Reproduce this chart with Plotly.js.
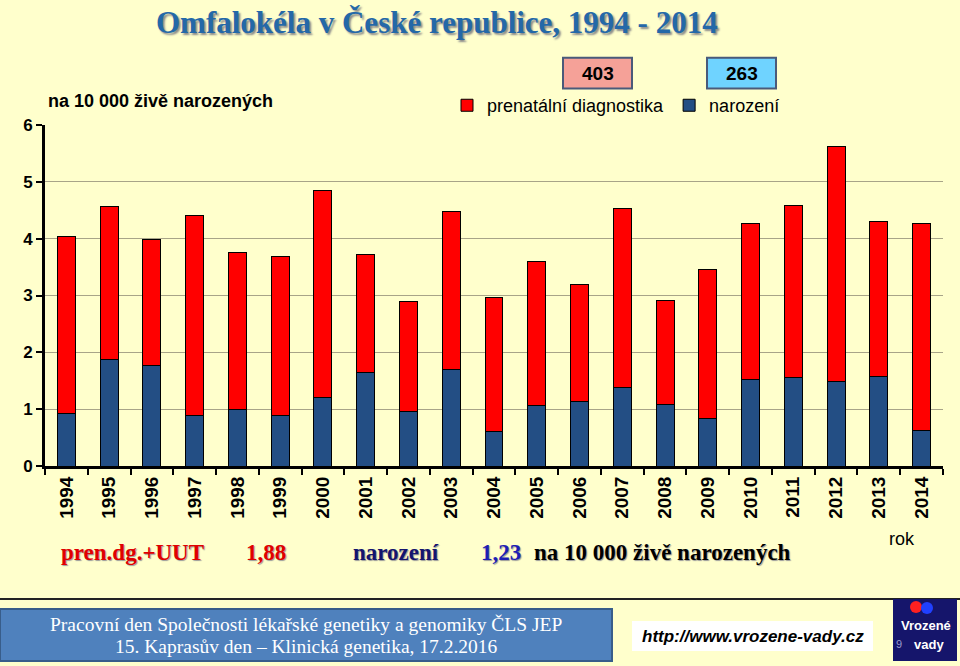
<!DOCTYPE html>
<html>
<head>
<meta charset="utf-8">
<script src="https://cdn.plot.ly/plotly-3.0.1.min.js"></script>
<style>
  body { margin: 0; background: #FFFFCC; }
  #chart { width: 960px; height: 666px; }
</style>
</head>
<body>
<div id="chart"></div>
<script>
// roky a hodnoty na 10 000 živě narozených
let years = ['1994','1995','1996','1997','1998','1999','2000','2001','2002','2003','2004',
             '2005','2006','2007','2008','2009','2010','2011','2012','2013','2014'];
let birthVals = [0.93, 1.88, 1.77, 0.88, 0.99, 0.89, 1.21, 1.64, 0.96, 1.70, 0.61,
                 1.07, 1.13, 1.39, 1.08, 0.84, 1.53, 1.56, 1.49, 1.58, 0.63];
let prenatalVals = [3.10, 2.69, 2.21, 3.52, 2.76, 2.79, 3.63, 2.09, 1.93, 2.78, 2.35,
                    2.53, 2.07, 3.14, 1.84, 2.62, 2.73, 3.03, 4.14, 2.72, 3.64];
let yTicks = [0, 1, 2, 3, 4, 5, 6];

let traceBirth = {
  x: years,
  y: birthVals,
  type: 'bar',
  name: 'narození',
  marker: { color: '#234E84', line: { color: '#000', width: 1 } },
  width: 0.42
};
let tracePrenatal = {
  x: years,
  y: prenatalVals,
  type: 'bar',
  name: 'prenatální diagnostika',
  marker: { color: '#FF0000', line: { color: '#000', width: 1 } },
  width: 0.42
};

// plot area: x 45..943, y 124.5..466.5 px
const W = 898, H = 342;
function px(x) { return (x - 45) / W; }
function py(y) { return (466.5 - y) / H; }

let sans = 'Liberation Sans, Arial';
let serif = 'Liberation Serif, Times New Roman';
let shadow = '1px 1px 1px #999';

function note(text, x, y, font, xanchor) {
  return { text: text, xref: 'paper', yref: 'paper', x: px(x), y: py(y),
           xanchor: xanchor || 'left', yanchor: 'middle', showarrow: false, font: font };
}

let layout = {
  width: 960,
  height: 666,
  paper_bgcolor: '#FFFFCC',
  plot_bgcolor: '#FFFFCC',
  barmode: 'stack',
  margin: { l: 45, r: 17, t: 124.5, b: 199.5, autoexpand: false },
  showlegend: true,
  legend: {
    orientation: 'h', traceorder: 'reversed',
    x: px(447), y: py(105), xanchor: 'left', yanchor: 'middle',
    bgcolor: 'rgba(0,0,0,0)',
    font: { family: sans, size: 18, color: '#000' },
    itemwidth: 30
  },
  xaxis: {
    type: 'category',
    tickangle: -90,
    tickfont: { family: sans, size: 19, color: '#000', weight: 'bold' },
    showline: true, linecolor: '#000', linewidth: 3,
    ticks: 'outside', tickson: 'boundaries', ticklen: 6, tickwidth: 2, tickcolor: '#000',
    showgrid: false, automargin: false
  },
  yaxis: {
    range: [0, 6],
    tickvals: yTicks,
    tickfont: { family: sans, size: 17, color: '#000', weight: 'bold' },
    showline: true, linecolor: '#000', linewidth: 3,
    ticks: 'outside', ticklen: 6, tickwidth: 2, tickcolor: '#000',
    gridcolor: '#A8A488', gridwidth: 1,
    zeroline: false, automargin: false
  },
  shapes: [
    // rámečky s počty
    { type: 'rect', xref: 'paper', yref: 'paper',
      x0: px(563), x1: px(632), y0: py(88), y1: py(57),
      fillcolor: '#F5A198', line: { color: '#4A5A7A', width: 2 } },
    { type: 'rect', xref: 'paper', yref: 'paper',
      x0: px(707), x1: px(776), y0: py(88), y1: py(57),
      fillcolor: '#6FD3FF', line: { color: '#4A5A7A', width: 2 } },
    // čára nad zápatím
    { type: 'line', xref: 'paper', yref: 'paper',
      x0: px(0), x1: px(960), y0: py(600), y1: py(600),
      line: { color: '#222', width: 2 } },
    // modrý pruh zápatí
    { type: 'rect', xref: 'paper', yref: 'paper',
      x0: px(0), x1: px(612), y0: py(662), y1: py(610),
      fillcolor: '#4F81BD', line: { color: '#385D8A', width: 2 } },
    // bílý rámeček s adresou
    { type: 'rect', xref: 'paper', yref: 'paper',
      x0: px(632), x1: px(873), y0: py(652), y1: py(622),
      fillcolor: '#FFFFFF', line: { width: 0 } },
    // logo
    { type: 'rect', xref: 'paper', yref: 'paper',
      x0: px(893), x1: px(957), y0: py(662), y1: py(600),
      fillcolor: '#15156B', line: { width: 0 } },
    { type: 'circle', xref: 'paper', yref: 'paper',
      x0: px(910), x1: px(922), y0: py(614), y1: py(602),
      fillcolor: '#FF2020', line: { width: 0 } },
    { type: 'circle', xref: 'paper', yref: 'paper',
      x0: px(921), x1: px(933), y0: py(615), y1: py(603),
      fillcolor: '#2040FF', line: { width: 0 } }
  ],
  annotations: [
    note('<b>Omfalokéla v České republice, 1994 - 2014</b>', 437, 22,
         { family: serif, size: 31, color: '#2468A8', shadow: '2px 2px 2px #8A8A8A' }, 'center'),
    note('<b>403</b>', 597.5, 72.5, { family: sans, size: 19, color: '#000' }, 'center'),
    note('<b>263</b>', 741.5, 72.5, { family: sans, size: 19, color: '#000' }, 'center'),
    note('<b>na 10 000 živě narozených</b>', 46, 100, { family: sans, size: 18, color: '#000' }),
    note('rok', 887, 540, { family: sans, size: 18, color: '#000' }),
    note('<b>pren.dg.+UUT</b>', 59, 553, { family: serif, size: 23, color: '#E00000', shadow: shadow }),
    note('<b>1,88</b>', 244, 553, { family: serif, size: 23, color: '#E00000', shadow: shadow }),
    note('<b>narození</b>', 351, 553, { family: serif, size: 23, color: '#14146E', shadow: shadow }),
    note('<b>1,23</b>', 479, 553, { family: serif, size: 23, color: '#1E1EB4', shadow: shadow }),
    note('<b>na 10 000 živě narozených</b>', 532, 553, { family: serif, size: 23, color: '#000', shadow: shadow }),
    note('Pracovní den Společnosti lékařské genetiky a genomiky ČLS JEP', 306, 625,
         { family: serif, size: 19.5, color: '#FFFFFF' }, 'center'),
    note('15. Kaprasův den – Klinická genetika, 17.2.2016', 306, 648,
         { family: serif, size: 19.5, color: '#FFFFFF' }, 'center'),
    note('<b><i>http://www.vrozene-vady.cz</i></b>', 752.5, 637,
         { family: sans, size: 17, color: '#000' }, 'center'),
    note('<b>Vrozené</b>', 926, 626, { family: sans, size: 13, color: '#FFFFFF' }, 'center'),
    note('<b>vady</b>', 929, 646, { family: sans, size: 13, color: '#FFFFFF' }, 'center'),
    note('9', 894, 645, { family: sans, size: 11, color: '#9999CC' })
  ]
};

Plotly.newPlot('chart', [traceBirth, tracePrenatal], layout, { displayModeBar: false, staticPlot: true });
</script>
</body>
</html>
